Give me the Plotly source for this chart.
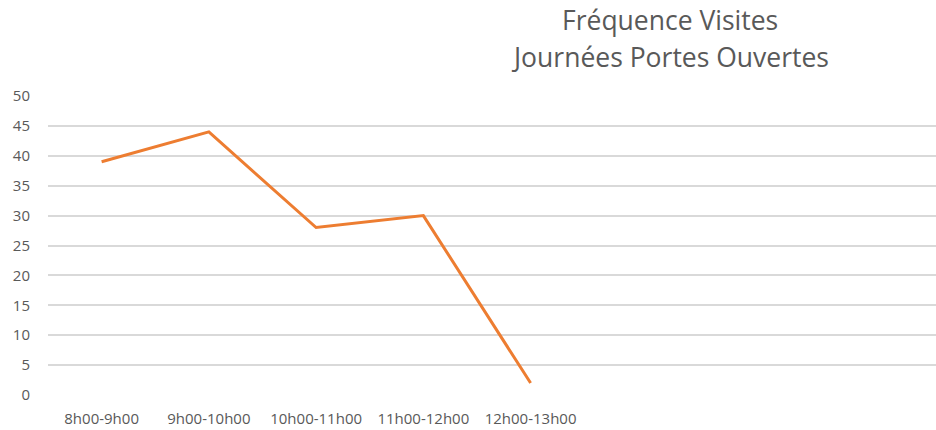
import plotly.graph_objects as go

categories = ["8h00-9h00", "9h00-10h00", "10h00-11h00", "11h00-12h00", "12h00-13h00"]
visites = [39, 44, 28, 30, 2]
y_ticks = [0, 5, 10, 15, 20, 25, 30, 35, 40, 45, 50]
title_lines = ["Fréquence Visites", "Journées Portes Ouvertes"]

x_idx = list(range(len(categories)))

fig = go.Figure()
fig.add_trace(go.Scatter(
    x=x_idx, y=visites, mode="lines",
    line=dict(color="#ED7D31", width=3),
    showlegend=False, hoverinfo="skip",
))

title_x = (670 - 48) / 888
annots = []
for line, ypix in zip(title_lines, [20, 57]):
    annots.append(dict(
        text=line, xref="paper", yref="paper", x=title_x, y=1,
        yshift=96 - ypix, xanchor="center", yanchor="middle", showarrow=False,
        font=dict(size=26.5, color="#595959"),
    ))

fig.update_layout(
    width=936, height=430,
    margin=dict(l=48, r=0, t=96, b=35, autoexpand=False),
    paper_bgcolor="white", plot_bgcolor="white",
    font=dict(family="Open Sans, Noto Sans, sans-serif", color="#595959", size=15),
    annotations=annots,
)
fig.update_xaxes(
    range=[-0.5, 7.78], tickmode="array", tickvals=x_idx, ticktext=categories,
    tickangle=0, showgrid=False, zeroline=False, showline=False,
    ticks="", ticklabelstandoff=13, fixedrange=True,
)
fig.update_yaxes(
    range=[0, 50], tickmode="array", tickvals=y_ticks,
    showgrid=True, gridcolor="#D9D9D9", gridwidth=1.5,
    zeroline=False, showline=False, ticks="", ticklabelstandoff=17,
    fixedrange=True,
)

fig.write_html(
    "out.html",
    config={"displayModeBar": False},
    post_script="document.body.style.margin='0';document.body.style.padding='0';",
)
